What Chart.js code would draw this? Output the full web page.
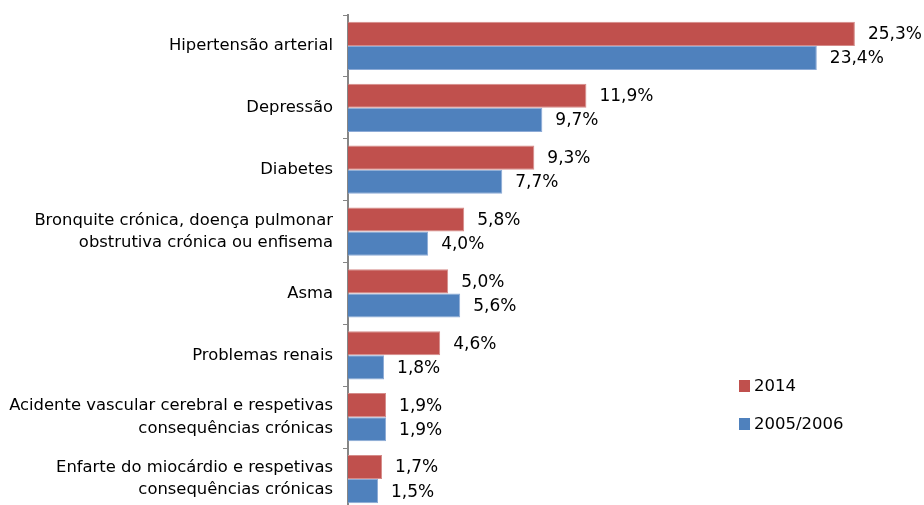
<!DOCTYPE html>
<html>
<head>
<meta charset="utf-8">
<script src="https://cdn.jsdelivr.net/npm/chart.js@4.4.0/dist/chart.umd.min.js"></script>
<style>
  html, body { margin: 0; padding: 0; background: #fff; overflow: hidden; }
  #wrap { position: relative; width: 924px; height: 512px; }
  .legend { position: absolute; left: 739px; font: 16.5px "DejaVu Sans", sans-serif; color: #000; }
  .legend span { display: inline-block; width: 11px; height: 12px; margin-right: 4px; vertical-align: -1px; }
</style>
</head>
<body>
<div id="wrap">
  <canvas id="chart" width="924" height="510"></canvas>
  <div class="legend" style="top:376px"><span style="background:#C0504D"></span>2014</div>
  <div class="legend" style="top:414px"><span style="background:#4F81BD"></span>2005/2006</div>
</div>
<script>
const categories = [
  "Hipertensão arterial",
  "Depressão",
  "Diabetes",
  ["Bronquite crónica, doença pulmonar", "obstrutiva crónica ou enfisema"],
  "Asma",
  "Problemas renais",
  ["Acidente vascular cerebral e respetivas", "consequências crónicas"],
  ["Enfarte do miocárdio e respetivas", "consequências crónicas"],
];
const values2014 = [25.3, 11.9, 9.3, 5.8, 5.0, 4.6, 1.9, 1.7];
const values2005 = [23.4, 9.7, 7.7, 4.0, 5.6, 1.8, 1.9, 1.5];

// Draw the value labels at the end of each bar
const valueLabels = {
  id: "valueLabels",
  afterDatasetsDraw(chart) {
    const ctx = chart.ctx;
    ctx.save();
    ctx.font = '17px "DejaVu Sans", sans-serif';
    ctx.fillStyle = "#000";
    ctx.textBaseline = "middle";
    ctx.textAlign = "left";
    chart.data.datasets.forEach((ds, i) => {
      chart.getDatasetMeta(i).data.forEach((bar, j) => {
        const txt = ds.data[j].toFixed(1).replace(".", ",") + "%";
        ctx.fillText(txt, bar.x + 13, bar.y + 1);
      });
    });
    ctx.restore();
  },
};

const chart = new Chart(document.getElementById("chart"), {
  type: "bar",
  data: {
    labels: categories,
    datasets: [
      {
        label: "2014",
        data: values2014,
        backgroundColor: "#C0504D",
        borderColor: "#D58B89",
        borderWidth: 1,
        categoryPercentage: 0.78,
        barPercentage: 1,
      },
      {
        label: "2005/2006",
        data: values2005,
        backgroundColor: "#4F81BD",
        borderColor: "#8CAAD6",
        borderWidth: 1,
        categoryPercentage: 0.78,
        barPercentage: 1,
      },
    ],
  },
  options: {
    indexAxis: "y",
    responsive: false,
    animation: false,
    layout: { padding: { top: 15, right: 0, bottom: 0, left: 0 } },
    scales: {
      x: {
        display: false,
        min: 0,
        max: 28.75,
      },
      y: {
        afterFit: (scale) => {
          scale.width = 348;
          scale.paddingTop = 0;
          scale.paddingBottom = 0;
        },
        grid: {
          drawOnChartArea: false,
          drawTicks: true,
          tickLength: 5,
          color: "#868686",
          offset: true,
        },
        border: { color: "#868686", width: 2 },
        ticks: {
          color: "#000",
          padding: 10,
          font: { family: "DejaVu Sans", size: 16.4, lineHeight: 1.35 },
        },
      },
    },
    plugins: {
      legend: { display: false },
      tooltip: { enabled: false },
    },
  },
  plugins: [valueLabels],
});
</script>
</body>
</html>
